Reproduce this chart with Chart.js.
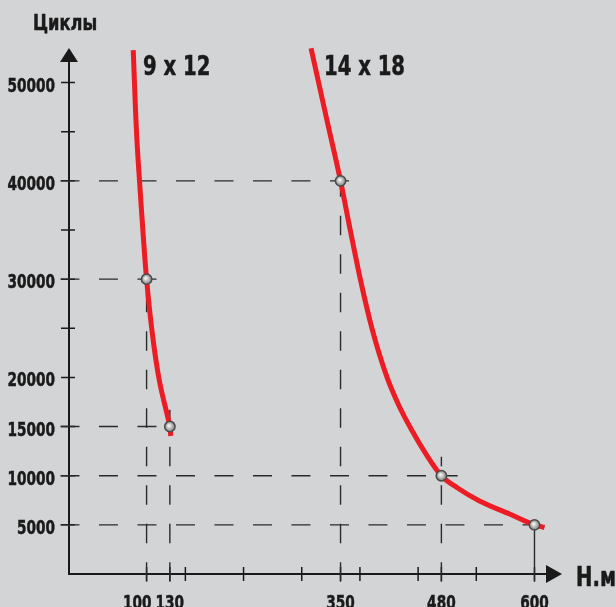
<!DOCTYPE html>
<html>
<head>
<meta charset="utf-8">
<script src="https://cdn.jsdelivr.net/npm/chart.js@4/dist/chart.umd.min.js"></script>
<style>
  html, body { margin: 0; padding: 0; background: #d3d4d6; }
  #wrap { width: 616px; height: 607px; position: relative; }
</style>
</head>
<body>
<div id="wrap"><canvas id="chart"></canvas></div>
<script>
// curve 9 x 12
const curveSmallX = [82.8, 87, 90.9, 95.2, 100, 106.9, 116.3, 130, 131.1];
const curveSmallY = [53300, 45000, 40000, 35000, 30000, 24800, 19750, 15000, 14050];
// curve 14 x 18
const curveBigX = [312, 331, 350, 362.5, 375.5, 390.5, 410, 424.9, 441.7, 461, 480, 500.9, 529.2, 567.9, 600, 612.9];
const curveBigY = [53500, 46700, 40000, 35000, 30000, 25000, 20000, 17200, 14650, 12100, 10000, 8750, 7430, 6100, 5000, 4730];

// marked points + where the guide lines stop
const markX = [100, 130, 350, 480, 600];
const markY = [30000, 15000, 40000, 10000, 5000];
const guideEndX = [114, 134, 362, 501, 600];
const guideEndY = [31450, 16700, 40000, 11940, 5000];

const yTickValues = [5000, 10000, 15000, 20000, 25000, 30000, 35000, 40000, 45000, 50000];
const yTickLabels = ['5000', '10000', '15000', '20000', '', '30000', '', '40000', '', '50000'];
const xTickValues = [100, 130, 150, 225, 300, 350, 375, 450, 480, 525, 600];
const xTickLabels = ['100', '130', '', '', '', '350', '', '', '480', '', '600'];

const FONT = '"DejaVu Sans Condensed", "DejaVu Sans", sans-serif';
const INK = '#1a1a1a';

const toPts = (xs, ys) => xs.map((x, i) => ({ x: x, y: ys[i] }));

// squeezed text, the original uses a narrow bold face
function narrowText(c, txt, x, y, align, sx) {
  const w = c.measureText(txt).width * sx;
  let left = x;
  if (align === 'center') left = x - w / 2;
  if (align === 'right') left = x - w;
  c.save();
  c.translate(left, y);
  c.scale(sx, 1);
  c.textAlign = 'left';
  c.fillText(txt, 0, 0);
  c.lineWidth = 0.5;
  c.strokeStyle = INK;
  c.strokeText(txt, 0, 0);
  c.restore();
  return w;
}

const datasets = [];
markX.forEach((mx, i) => {
  datasets.push({
    data: [{ x: -11, y: markY[i] }, { x: guideEndX[i], y: markY[i] }],
    borderColor: '#2a2a2a', borderWidth: 1.4, borderDash: [19, 19.5],
    pointRadius: 0, clip: false, order: 3, tension: 0
  });
  datasets.push({
    data: [{ x: mx, y: -800 }, { x: mx, y: guideEndY[i] }],
    borderColor: '#2a2a2a', borderWidth: 1.4, borderDash: i === 4 ? [] : [19.5, 19],
    pointRadius: 0, clip: false, order: 3, tension: 0
  });
});
datasets.push({
  data: toPts(curveSmallX, curveSmallY),
  borderColor: '#ec1c24', borderWidth: 5, pointRadius: 0, tension: 0.4,
  clip: false, order: 2, borderCapStyle: 'butt'
});
datasets.push({
  data: toPts(curveBigX, curveBigY),
  borderColor: '#ec1c24', borderWidth: 5, pointRadius: 0,
  cubicInterpolationMode: 'monotone',
  clip: false, order: 2, borderCapStyle: 'butt'
});
datasets.push({
  data: toPts(markX, markY),
  showLine: false, pointRadius: 5.2, pointBorderWidth: 1.5,
  pointBorderColor: '#4a4a4a',
  pointBackgroundColor: function (ctx) {
    const el = ctx.element;
    if (!el || el.x === undefined) return '#a8a8a8';
    const c = ctx.chart.ctx;
    const g = c.createRadialGradient(el.x - 1, el.y - 1, 0.5, el.x, el.y, 5.2);
    g.addColorStop(0, '#f4f4f4');
    g.addColorStop(1, '#7d7d7d');
    return g;
  },
  clip: false, order: 1
});

const axesPlugin = {
  id: 'axesPlugin',
  beforeDatasetsDraw(chart) {
    const c = chart.ctx;
    const xs = chart.scales.x, ys = chart.scales.y;
    const x0 = xs.getPixelForValue(0), y0 = ys.getPixelForValue(0);
    c.save();
    c.strokeStyle = INK;
    c.fillStyle = INK;
    c.lineWidth = 2;
    c.beginPath();
    c.moveTo(x0, y0 + 1);
    c.lineTo(x0, 62);
    c.moveTo(x0 - 1, y0);
    c.lineTo(546, y0);
    c.stroke();
    c.beginPath();
    c.moveTo(x0, 48); c.lineTo(x0 - 9, 62); c.lineTo(x0 + 9, 62); c.closePath();
    c.fill();
    c.beginPath();
    c.moveTo(562, y0); c.lineTo(546, y0 - 9); c.lineTo(546, y0 + 9); c.closePath();
    c.fill();
    c.lineWidth = 1.5;
    c.beginPath();
    yTickValues.forEach(v => {
      const p = ys.getPixelForValue(v);
      c.moveTo(x0 - 8, p); c.lineTo(x0 + 6, p);
    });
    xTickValues.forEach(v => {
      const p = xs.getPixelForValue(v);
      c.moveTo(p, y0 - 7); c.lineTo(p, y0 + 7);
    });
    c.stroke();
    c.restore();
  },
  afterDraw(chart) {
    const c = chart.ctx;
    const xs = chart.scales.x, ys = chart.scales.y;
    const x0 = xs.getPixelForValue(0), y0 = ys.getPixelForValue(0);
    c.save();
    c.fillStyle = INK;
    c.textBaseline = 'alphabetic';
    // tick labels from the scales
    c.font = 'bold 20px ' + FONT;
    ys.ticks.forEach((t, i) => {
      if (!t.label) return;
      narrowText(c, t.label, x0 - 14, ys.getPixelForValue(t.value) + 9, 'right', 0.76);
    });
    const xl = xs.ticks.filter(t => t.label).map(t => ({
      label: t.label, x: xs.getPixelForValue(t.value),
      w: c.measureText(t.label).width * 0.76
    }));
    // push a label left if it runs into the next one
    for (let i = xl.length - 2; i >= 0; i--) {
      const nextLeft = xl[i + 1].x - xl[i + 1].w / 2;
      const right = xl[i].x + xl[i].w / 2;
      if (right > nextLeft - 4) xl[i].x -= right - (nextLeft - 4);
    }
    xl.forEach(l => narrowText(c, l.label, l.x, y0 + 35, 'center', 0.76));
    c.font = 'bold 21px ' + FONT;
    narrowText(c, 'Циклы', 33, 30, 'left', 0.86);
    c.font = 'bold 26px ' + FONT;
    narrowText(c, '9 x 12', 143, 75, 'left', 0.84);
    narrowText(c, '14 x 18', 324, 75, 'left', 0.84);
    narrowText(c, 'Н.м', 576, 586, 'left', 0.84);
    c.restore();
  }
};

new Chart(document.getElementById('chart'), {
  type: 'line',
  data: { datasets: datasets },
  options: {
    responsive: true,
    maintainAspectRatio: false,
    animation: false,
    layout: { padding: { top: 58, right: 66, left: 0, bottom: 0 } },
    plugins: { legend: { display: false }, tooltip: { enabled: false } },
    scales: {
      x: {
        type: 'linear', min: 0, max: 620,
        border: { display: false },
        grid: { display: false, drawTicks: false },
        afterBuildTicks: s => { s.ticks = xTickValues.map(v => ({ value: v })); },
        afterFit: s => { s.height = 33; },
        ticks: {
          display: false, autoSkip: false,
          callback: (v) => xTickLabels[xTickValues.indexOf(v)]
        }
      },
      y: {
        type: 'linear', min: 0, max: 52500,
        border: { display: false },
        grid: { display: false, drawTicks: false },
        afterBuildTicks: s => { s.ticks = yTickValues.map(v => ({ value: v })); },
        afterFit: s => { s.width = 69; },
        ticks: {
          display: false, autoSkip: false,
          callback: (v) => yTickLabels[yTickValues.indexOf(v)]
        }
      }
    }
  },
  plugins: [axesPlugin]
});
</script>
</body>
</html>
